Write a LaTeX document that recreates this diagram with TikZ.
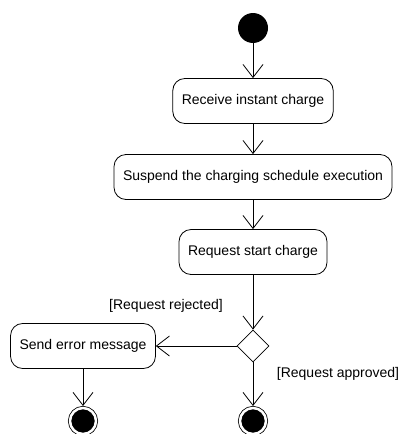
\documentclass[tikz,border=0pt]{standalone}
\usepackage{fontspec}
\setmainfont{Liberation Sans}
\usetikzlibrary{shapes.geometric, arrows.meta, positioning}

\begin{document}
\begin{tikzpicture} [
    x = 1pt, y = 1pt,
    node distance = 75pt,
    on grid,
    font = \fontsize{14}{16}\selectfont,
    action/.style={draw, rounded corners=12pt, line width=0.8pt,
        minimum height=45pt, inner xsep=9pt},
    initialstate/.style={circle, fill=black, minimum size=30pt, inner sep=0pt},
    finalstate/.style={circle, draw, fill=black, line width=0.8pt,
        double=white, double distance=2.5pt,
        minimum size=26pt, inner sep=0pt, outer sep=2pt},
    decision/.style={diamond, draw, line width=0.8pt,
        minimum width=32pt, minimum height=32pt, inner sep=0pt},
    guard/.style={inner sep=0pt},
    flow/.style={-{Straight Barb[length=13pt, width=20pt]}, line width=0.8pt}]

\useasboundingbox (0,0) rectangle (403,-434);

% Initial state
\node (start) [initialstate] at (253,-28) {};

% Actions
\node (receive) [action,
    below = 73pt of start] {Receive instant charge};

\node (suspend) [action,
    below = 76pt of receive] {Suspend the charging schedule execution};

\node (request) [action,
    below = of suspend] {Request start charge};

% Decision
\node (check) [decision,
    below = 94pt of request] {};

\node (error) [action,
    left = 170pt of check] {Send error message};

% Final states
\node (end1) [finalstate,
    below = of error] {};

\node (end2) [finalstate,
    below = of check] {};

% Guards
\node (rejected) [guard,
    above left = 40pt and 87pt of check] {[Request rejected]};

\node (approved) [guard,
    below right = 28pt and 85pt of check] {[Request approved]};

% Arrows
\path [flow]
    (start) edge (receive)
    (receive) edge (suspend)
    (suspend) edge (request)
    (request) edge (check)
    (check) edge (error)
    (check) edge (end2)
    (error) edge (end1);
\end{tikzpicture}
\end{document}
